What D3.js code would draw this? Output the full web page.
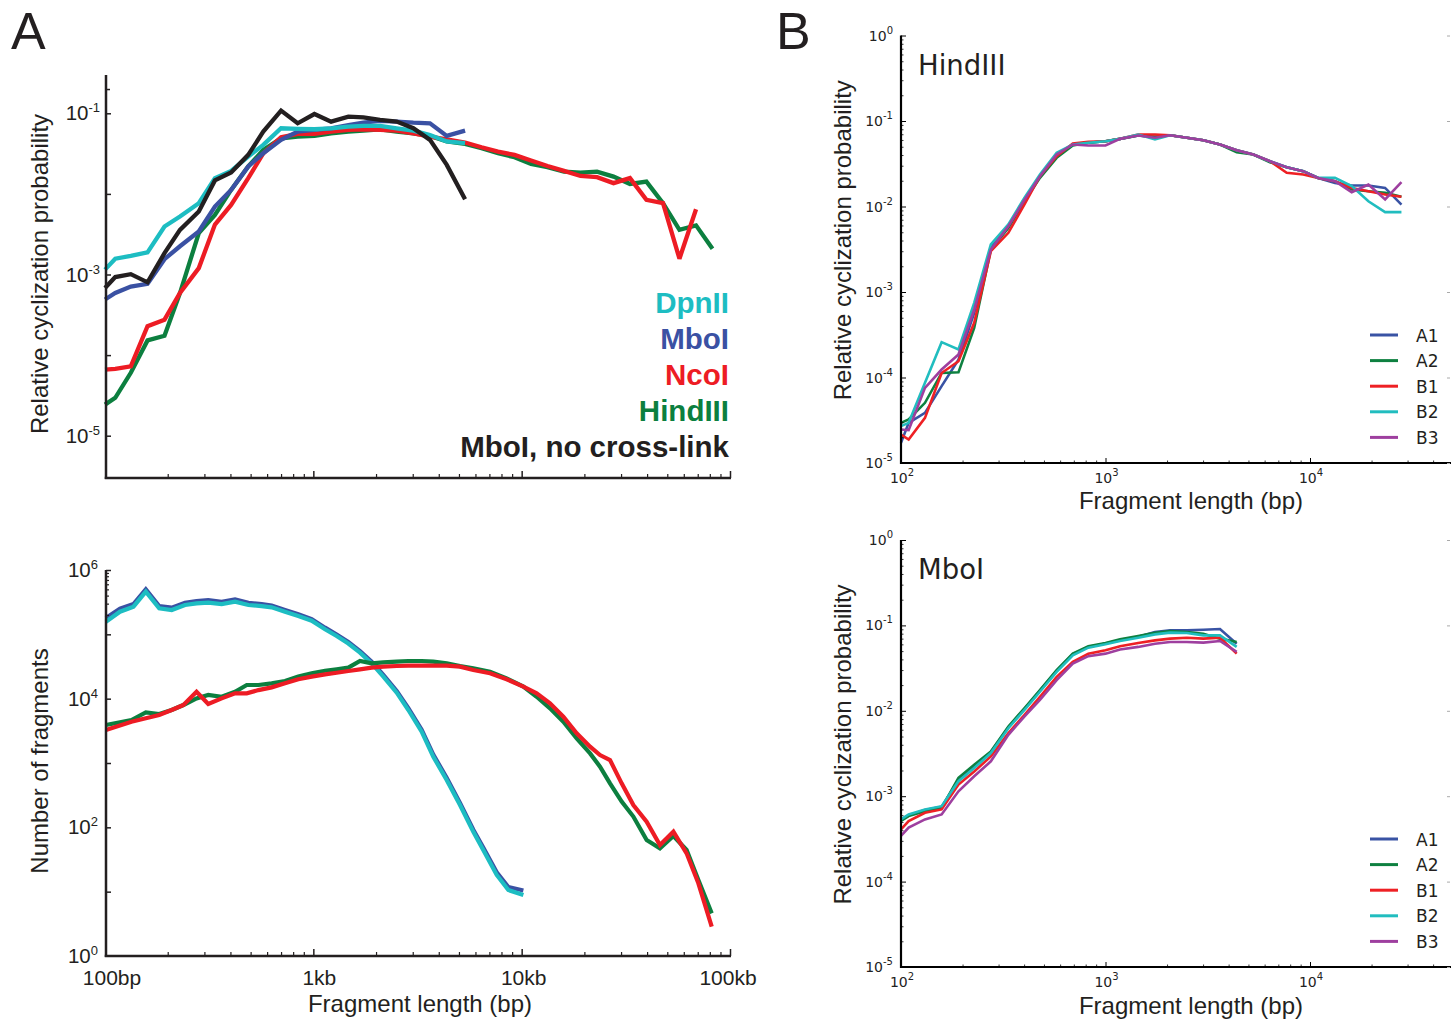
<!DOCTYPE html>
<html><head><meta charset="utf-8">
<script src="https://cdn.jsdelivr.net/npm/d3@7"></script>
<style>body{margin:0;background:#fff}</style>
</head><body>
<svg id="c" width="1455" height="1022" xmlns="http://www.w3.org/2000/svg"></svg>
<script>
// ---------------- DATA ----------------
// Panel A (top): relative cyclization probability vs fragment length
const fragLenA = [100,112,133,160,193,229,282,337,403,487,575,700,841,1012,1217,1473,1738,2090,2512,3020,3630,4370,5350,6420,7700,9240,11090,13300,15970,19160,23000,27600,33100,39700,47700,57200,68700,82400];
const cycDpnII = [1.15e-3,1.57e-3,1.70e-3,1.88e-3,3.94e-3,5.25e-3,7.67e-3,1.57e-2,1.93e-2,2.90e-2,4.06e-2,6.52e-2,6.40e-2,6.34e-2,6.52e-2,6.84e-2,6.97e-2,6.97e-2,6.52e-2,6.10e-2,5.37e-2,4.47e-2,4.27e-2];
const cycMboI = [4.9e-4,5.89e-4,7.08e-4,7.67e-4,1.55e-3,2.24e-3,3.42e-3,6.98e-3,1.12e-2,2.19e-2,3.19e-2,4.68e-2,5.93e-2,6.21e-2,6.52e-2,7.16e-2,7.66e-2,8.04e-2,7.89e-2,7.66e-2,7.52e-2,5.25e-2,6.10e-2];
const cycNcoI = [6.6e-5,6.73e-5,7.24e-5,2.28e-4,2.75e-4,5.89e-4,1.20e-3,4.17e-3,7.31e-3,1.57e-2,3.19e-2,5.05e-2,5.55e-2,5.55e-2,5.93e-2,6.21e-2,6.34e-2,6.21e-2,6.10e-2,5.65e-2,5.13e-2,4.76e-2,4.34e-2,3.79e-2,3.35e-2,3.05e-2,2.59e-2,2.22e-2,1.93e-2,1.67e-2,1.61e-2,1.36e-2,1.57e-2,8.43e-3,7.67e-3,1.57e-3,6.46e-3];
const cycHindIII = [2.43e-5,2.95e-5,6.03e-5,1.52e-4,1.74e-4,5.89e-4,3.26e-3,5.50e-3,1.12e-2,2.19e-2,3.52e-2,4.90e-2,5.13e-2,5.25e-2,5.65e-2,5.93e-2,6.10e-2,6.34e-2,5.93e-2,5.65e-2,5.25e-2,4.47e-2,4.17e-2,3.68e-2,3.19e-2,2.85e-2,2.36e-2,2.14e-2,1.89e-2,1.84e-2,1.89e-2,1.64e-2,1.33e-2,1.42e-2,7.67e-3,3.58e-3,4.07e-3,2.09e-3];
const cycMboINoXL = [6.8e-4,9.3e-4,1.01e-3,8.0e-4,1.84e-3,3.58e-3,6.05e-3,1.47e-2,1.84e-2,3.05e-2,5.93e-2,1.08e-1,7.52e-2,9.8e-2,7.89e-2,9.1e-2,8.9e-2,8.26e-2,7.89e-2,6.52e-2,4.68e-2,2.29e-2,8.6e-3];

// Panel A (bottom): number of fragments
const fragLen4cut = [101,118,137,157,182,209,242,275,313,363,421,488,565,631,731,847,982,1138,1294,1472,1675,1906,2168,2513,2858,3311,3766,4365,5058,5860,6550,7590,8630,10190];
const countMboI = [1.8e5,2.5e5,2.95e5,5.0e5,2.75e5,2.6e5,3.1e5,3.3e5,3.4e5,3.2e5,3.5e5,3.1e5,2.95e5,2.8e5,2.4e5,2.05e5,1.72e5,1.27e5,9.9e4,7.6e4,5.5e4,3.75e4,2.35e4,1.32e4,7.1e3,3.3e3,1.35e3,590,240,92,48,20,11.8,10.4];
const countDpnII = [1.57e5,2.25e5,2.69e5,4.6e5,2.54e5,2.39e5,2.86e5,3.03e5,3.1e5,2.96e5,3.22e5,2.86e5,2.75e5,2.63e5,2.25e5,1.93e5,1.63e5,1.2e5,9.4e4,7.2e4,5.19e4,3.54e4,2.2e4,1.24e4,6.66e3,3.07e3,1.25e3,545,222,85,44,18.2,10.6,8.9];
const fragLen6cut = [101,134,157,182,209,238,275,313,363,421,479,545,631,731,847,982,1138,1294,1472,1675,1906,2168,2513,2858,3311,3766,4365,5058,5861,7050,8470,10190,11800,13680,15850,18370,21300,23770,26550,30200,34360,39800,46100,53500,61900,70500,81700];
const countHindIII = [3.9e3,4.66e3,6.13e3,5.78e3,6.67e3,7.98e3,1.01e4,1.14e4,1.07e4,1.28e4,1.63e4,1.63e4,1.73e4,1.88e4,2.2e4,2.48e4,2.72e4,2.86e4,3.03e4,3.85e4,3.54e4,3.67e4,3.76e4,3.85e4,3.85e4,3.76e4,3.54e4,3.2e4,2.95e4,2.63e4,2.07e4,1.54e4,1.07e4,7.08e3,4.39e3,2.42e3,1.41e3,877,483,251,147,63.5,47.2,73.3,44.4,15.2,4.6];
const countNcoI = [3.26e3,4.39e3,4.95e3,5.57e3,6.67e3,7.98e3,1.28e4,8.26e3,1.01e4,1.21e4,1.21e4,1.36e4,1.5e4,1.73e4,2.0e4,2.2e4,2.39e4,2.53e4,2.69e4,2.86e4,3.03e4,3.14e4,3.22e4,3.26e4,3.26e4,3.26e4,3.26e4,3.14e4,2.79e4,2.48e4,2.0e4,1.54e4,1.21e4,8.45e3,5.25e3,2.89e3,1.79e3,1.33e3,1.11e3,483,222,122,53,85.7,39.4,13.5,2.86];

// Panel B: replicates
const fragLenB = [100,109,131,158,191,228,275,335,401,478,577,692,824,1000,1178,1445,1746,2070,2500,3010,3630,4380,5280,6370,7690,9270,10960,13250,16000,19300,23300,28000];
const replicateNames = ["A1","A2","B1","B2","B3"];
const hindA1 = [1.72e-5,2.95e-5,3.86e-5,7.94e-5,1.62e-4,5.7e-4,3.29e-3,5.89e-3,1.21e-2,2.26e-2,3.95e-2,5.31e-2,5.56e-2,5.8e-2,6.18e-2,6.76e-2,6.53e-2,6.82e-2,6.36e-2,5.97e-2,5.31e-2,4.56e-2,4.06e-2,3.39e-2,2.88e-2,2.59e-2,2.16e-2,1.89e-2,1.76e-2,1.76e-2,1.65e-2,1.05e-2];
const hindA2 = [2.95e-5,3.23e-5,5.06e-5,1.13e-4,1.15e-4,3.81e-4,3.14e-3,5.62e-3,1.15e-2,2.16e-2,3.71e-2,5.17e-2,5.56e-2,5.8e-2,6.18e-2,6.76e-2,6.53e-2,6.82e-2,6.36e-2,5.97e-2,5.31e-2,4.32e-2,4.06e-2,3.3e-2,2.88e-2,2.59e-2,2.16e-2,1.98e-2,1.58e-2,1.51e-2,1.45e-2,1.30e-2];
const hindB1 = [2.15e-5,1.88e-5,3.37e-5,1.13e-4,1.55e-4,4.36e-4,3.0e-3,4.92e-3,1.05e-2,2.26e-2,3.88e-2,5.46e-2,5.7e-2,5.8e-2,6.18e-2,6.95e-2,6.95e-2,6.82e-2,6.36e-2,5.97e-2,5.31e-2,4.56e-2,4.06e-2,3.39e-2,2.48e-2,2.37e-2,2.16e-2,1.98e-2,1.65e-2,1.51e-2,1.38e-2,1.30e-2];
const hindB2 = [2.70e-5,2.95e-5,8.67e-5,2.59e-4,2.13e-4,7.47e-4,3.6e-3,6.17e-3,1.26e-2,2.37e-2,4.25e-2,5.31e-2,5.56e-2,5.8e-2,6.18e-2,6.95e-2,6.08e-2,6.82e-2,6.36e-2,5.97e-2,5.31e-2,4.56e-2,4.06e-2,3.39e-2,2.88e-2,2.59e-2,2.16e-2,2.16e-2,1.73e-2,1.15e-2,8.6e-3,8.6e-3];
const hindB3 = [2.47e-5,2.42e-5,7.57e-5,1.24e-4,1.86e-4,6.24e-4,3.14e-3,5.89e-3,1.19e-2,2.26e-2,4.06e-2,5.31e-2,5.17e-2,5.17e-2,6.18e-2,6.76e-2,6.36e-2,6.82e-2,6.36e-2,5.97e-2,5.31e-2,4.56e-2,4.06e-2,3.39e-2,2.88e-2,2.59e-2,2.16e-2,1.98e-2,1.47e-2,1.81e-2,1.21e-2,1.93e-2];
const mboA1 = [5.2e-4,6.0e-4,6.9e-4,7.5e-4,1.55e-3,2.2e-3,3.3e-3,6.4e-3,1.05e-2,1.72e-2,2.95e-2,4.6e-2,5.6e-2,6.15e-2,6.7e-2,7.35e-2,8.36e-2,8.75e-2,8.75e-2,8.9e-2,9.06e-2,6.11e-2];
const mboA2 = [5.12e-4,5.85e-4,6.68e-4,7.31e-4,1.64e-3,2.34e-3,3.34e-3,6.54e-3,1.07e-2,1.75e-2,2.99e-2,4.67e-2,5.69e-2,6.22e-2,6.87e-2,7.51e-2,8.22e-2,8.59e-2,8.36e-2,8.0e-2,7.0e-2,6.4e-2];
const mboB1 = [4.09e-4,5.12e-4,6.4e-4,7.0e-4,1.37e-3,1.95e-3,2.92e-3,5.47e-3,8.93e-3,1.46e-2,2.5e-2,3.74e-2,4.67e-2,5.12e-2,5.69e-2,6.22e-2,6.68e-2,7.0e-2,7.18e-2,7.0e-2,7.18e-2,4.67e-2];
const mboB2 = [5.35e-4,6.11e-4,7.0e-4,7.64e-4,1.5e-3,2.14e-3,3.2e-3,6.25e-3,1.02e-2,1.67e-2,2.86e-2,4.47e-2,5.49e-2,6.01e-2,6.56e-2,7.18e-2,7.85e-2,8.22e-2,8.14e-2,7.64e-2,7.64e-2,5.6e-2];
const mboB3 = [3.42e-4,4.28e-4,5.35e-4,6.11e-4,1.14e-3,1.71e-3,2.56e-3,5.23e-3,8.55e-3,1.34e-2,2.29e-2,3.57e-2,4.36e-2,4.67e-2,5.21e-2,5.6e-2,6.11e-2,6.4e-2,6.4e-2,6.28e-2,6.56e-2,4.89e-2];

const legendA = ["DpnII","MboI","NcoI","HindIII","MboI, no cross-link"];
const xTickLabelsA = ["100bp","1kb","10kb","100kb"];

// ---------------- DRAWING ----------------
const svg = d3.select("#c");
const AR = "'Liberation Sans', Arial, Helvetica, sans-serif";
const DJ = "'DejaVu Sans', sans-serif";
const colA = {DpnII:"#1DBDC2", MboI:"#3A51A3", NcoI:"#ED1C24", HindIII:"#0C7F3F", noXL:"#231F20"};
const colB = ["#3953A4","#0E8040","#EE2024","#21BDBF","#9E3F9F"];

function minorTicks(lo, hi){
  const out=[];
  for(let e=Math.floor(Math.log10(lo)); e<=Math.ceil(Math.log10(hi)); e++)
    for(let k=2;k<=9;k++){ const v=k*Math.pow(10,e); if(v>lo*1.0001 && v<hi*0.9999) out.push(v); }
  return out;
}
function drawLine(g, xs, ys, xS, yS, color, w){
  const line = d3.line().x(d=>xS(d[0])).y(d=>yS(d[1]));
  g.append("path").datum(d3.zip(xs.slice(0,ys.length), ys)).attr("d", line)
    .attr("fill","none").attr("stroke",color).attr("stroke-width",w)
    .attr("stroke-linejoin","miter").attr("stroke-miterlimit",3);
}
function ticksLeft(g, x0, yS, vals, len, w, color){
  g.append("g").attr("transform",`translate(${x0},0)`)
   .call(d3.axisLeft(yS).tickValues(vals).tickSize(-len).tickFormat(""))
   .call(s=>{s.select(".domain").remove(); s.selectAll("line").attr("stroke",color||"#000").attr("stroke-width",w);});
}
function ticksBottom(g, y0, xS, vals, len, w, color){
  g.append("g").attr("transform",`translate(0,${y0})`)
   .call(d3.axisBottom(xS).tickValues(vals).tickSize(-len).tickFormat(""))
   .call(s=>{s.select(".domain").remove(); s.selectAll("line").attr("stroke",color||"#000").attr("stroke-width",w);});
}
function powLabel(g, x, y, base, exp, fs, sfs, dy, anchor, font, color){
  const t = g.append("text").attr("x",x).attr("y",y).attr("text-anchor",anchor)
    .attr("font-family",font).attr("font-size",fs).attr("fill",color||"#231F20");
  t.append("tspan").text(base);
  t.append("tspan").attr("dy",-dy).attr("font-size",sfs).text(exp);
}

// ===== Panel A top =====
const xA = d3.scaleLog().domain([100,1e5]).range([105,730]);
const yA1 = d3.scaleLog().domain([1e-5,1e-1]).range([435.7,113.3]);
const gA1 = svg.append("g");
drawLine(gA1, fragLenA, cycHindIII, xA, yA1, colA.HindIII, 4.3);
drawLine(gA1, fragLenA, cycNcoI, xA, yA1, colA.NcoI, 4.3);
drawLine(gA1, fragLenA, cycMboI, xA, yA1, colA.MboI, 4.3);
drawLine(gA1, fragLenA, cycDpnII, xA, yA1, colA.DpnII, 4.3);
drawLine(gA1, fragLenA, cycMboINoXL, xA, yA1, colA.noXL, 4.3);
gA1.append("line").attr("x1",106).attr("x2",106).attr("y1",75).attr("y2",479).attr("stroke","#231F20").attr("stroke-width",2.5);
gA1.append("line").attr("x1",104.75).attr("x2",731).attr("y1",478).attr("y2",478).attr("stroke","#231F20").attr("stroke-width",2.5);
ticksLeft(gA1, 106, yA1, [1e-1,1e-2,1e-3,1e-4,1e-5], 5, 1.5, "#231F20");
ticksLeft(gA1, 106, yA1, [0.2], 4, 1.5, "#231F20");
ticksBottom(gA1, 478, xA, [1e3,1e4,1e5], 7, 1.5, "#231F20");
ticksBottom(gA1, 478, xA, minorTicks(100,1e5), 4, 1.2, "#231F20");
[[1e-1,"-1"],[1e-3,"-3"],[1e-5,"-5"]].forEach(([v,e])=>powLabel(gA1, 100, yA1(v)+7, "10", e, 20.5, 13, 8, "end", AR));
gA1.append("text").attr("transform",`translate(48,274) rotate(-90)`).attr("text-anchor","middle")
  .attr("font-family",AR).attr("font-size",24).attr("fill","#231F20").text("Relative cyclization probability");
const legColors = [colA.DpnII, colA.MboI, colA.NcoI, colA.HindIII, colA.noXL];
legendA.forEach((t,i)=>{
  gA1.append("text").attr("x",729).attr("y",313+36*i).attr("text-anchor","end")
    .attr("font-family",AR).attr("font-weight","bold").attr("font-size",29.5).attr("fill",legColors[i]).text(t);
});

// ===== Panel A bottom =====
const yA2 = d3.scaleLog().domain([1,1e6]).range([956,570]);
const gA2 = svg.append("g");
drawLine(gA2, fragLen4cut, countMboI, xA, yA2, colA.MboI, 4.2);
drawLine(gA2, fragLen4cut, countDpnII, xA, yA2, colA.DpnII, 4.2);
drawLine(gA2, fragLen6cut, countHindIII, xA, yA2, colA.HindIII, 4.2);
drawLine(gA2, fragLen6cut, countNcoI, xA, yA2, colA.NcoI, 4.2);
gA2.append("line").attr("x1",106).attr("x2",106).attr("y1",570).attr("y2",957).attr("stroke","#231F20").attr("stroke-width",2.5);
gA2.append("line").attr("x1",104.75).attr("x2",731).attr("y1",956).attr("y2",956).attr("stroke","#231F20").attr("stroke-width",2.5);
ticksLeft(gA2, 106, yA2, [1e6,1e5,1e4,1e3,1e2,1e1], 5, 1.5, "#231F20");
ticksLeft(gA2, 106, yA2, minorTicks(1e5,1e6), 3, 1.2, "#231F20");
ticksBottom(gA2, 956, xA, [1e3,1e4,1e5], 7, 1.5, "#231F20");
ticksBottom(gA2, 956, xA, minorTicks(100,1e5), 4, 1.2, "#231F20");
[[1e6,"6"],[1e4,"4"],[1e2,"2"],[1,"0"]].forEach(([v,e])=>powLabel(gA2, 98, yA2(v)+7, "10", e, 20.5, 13, 8, "end", AR));
const xLabDx = [7,6,2,-2];
[1e2,1e3,1e4,1e5].forEach((v,i)=>{
  gA2.append("text").attr("x",xA(v)+xLabDx[i]).attr("y",985).attr("text-anchor","middle")
    .attr("font-family",AR).attr("font-size",21).attr("fill","#231F20").text(xTickLabelsA[i]);
});
gA2.append("text").attr("transform",`translate(48,761) rotate(-90)`).attr("text-anchor","middle")
  .attr("font-family",AR).attr("font-size",24).attr("fill","#231F20").text("Number of fragments");
gA2.append("text").attr("x",420).attr("y",1012).attr("text-anchor","middle")
  .attr("font-family",AR).attr("font-size",24).attr("fill","#231F20").text("Fragment length (bp)");

// ===== Panel B =====
const xB = d3.scaleLog().domain([100, Math.pow(10, 2+548/204.5)]).range([901,1449]);
function panelB(top, bottom, title, titleY, series, legendY, labelY){
  const g = svg.append("g");
  const yS = d3.scaleLog().domain([1e-5,1]).range([bottom, top]);
  series.forEach((ys,i)=>drawLine(g, fragLenB, ys, xB, yS, colB[i], 2.6));
  g.append("line").attr("x1",901).attr("x2",901).attr("y1",top).attr("y2",bottom+1).attr("stroke","#000").attr("stroke-width",2.2);
  g.append("line").attr("x1",900).attr("x2",1451).attr("y1",bottom).attr("y2",bottom).attr("stroke","#000").attr("stroke-width",2.2);
  const yMaj = [1,1e-1,1e-2,1e-3,1e-4,1e-5];
  ticksLeft(g, 901, yS, yMaj, 5, 1, "#000");
  ticksLeft(g, 901, yS, minorTicks(1e-5,1), 2.5, 0.8, "#000");
  ticksBottom(g, bottom, xB, [1e2,1e3,1e4], 5, 1, "#000");
  ticksBottom(g, bottom, xB, minorTicks(100, xB.domain()[1]), 2.5, 0.8, "#000");
  g.append("g").attr("transform","translate(1450,0)")
   .call(d3.axisRight(yS).tickValues(yMaj).tickSize(-3).tickFormat(""))
   .call(s=>{s.select(".domain").remove(); s.selectAll("line").attr("stroke","#aaa").attr("stroke-width",1);});
  ["0","-1","-2","-3","-4","-5"].forEach((e,i)=>powLabel(g, 893, yS(yMaj[i])+5, "10", e, 14, 10, 7, "end", DJ, "#222"));
  [[1e2,"2"],[1e3,"3"],[1e4,"4"]].forEach(([v,e])=>powLabel(g, xB(v)+1, bottom+20, "10", e, 14, 10, 7, "middle", DJ, "#222"));
  g.append("text").attr("x",918).attr("y",titleY).attr("font-family",DJ).attr("font-size",27.5).attr("fill","#231F20").text(title);
  g.append("text").attr("transform",`translate(851,${(top+bottom)/2-9}) rotate(-90)`).attr("text-anchor","middle")
    .attr("font-family",AR).attr("font-size",24).attr("fill","#231F20").text("Relative cyclization probability");
  g.append("text").attr("x",1191).attr("y",labelY).attr("text-anchor","middle")
    .attr("font-family",AR).attr("font-size",24).attr("fill","#231F20").text("Fragment length (bp)");
  replicateNames.forEach((n,i)=>{
    const yy = legendY + 25.6*i;
    g.append("line").attr("x1",1370).attr("x2",1398).attr("y1",yy).attr("y2",yy).attr("stroke",colB[i]).attr("stroke-width",3);
    g.append("text").attr("x",1416).attr("y",yy+6.5).attr("font-family",DJ).attr("font-size",17).attr("fill","#231F20").text(n);
  });
}
panelB(35.5, 463, "HindIII", 75, [hindA1,hindA2,hindB1,hindB2,hindB3], 335, 509);
panelB(540, 967, "MboI", 579, [mboA1,mboA2,mboB1,mboB2,mboB3], 839, 1014);

// panel letters
svg.append("text").attr("x",11).attr("y",49).attr("font-family",AR).attr("font-size",52).attr("fill","#231F20").text("A");
svg.append("text").attr("x",776).attr("y",49).attr("font-family",AR).attr("font-size",52).attr("fill","#231F20").text("B");
</script>
</body></html>
